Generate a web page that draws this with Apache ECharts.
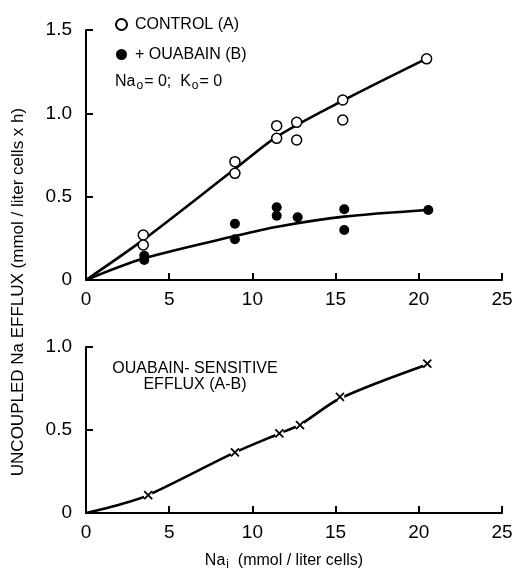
<!DOCTYPE html>
<html><head><meta charset="utf-8">
<script src="https://cdn.jsdelivr.net/npm/echarts@6/dist/echarts.min.js"></script>
<style>html,body{margin:0;padding:0;background:#fff}#c{width:516px;height:569px}</style>
</head><body><div id="c"></div>
<script>
// ---- data ----
const xTicks = [0, 5, 10, 15, 20, 25];
const yTicksTop = [0, 0.5, 1.0, 1.5];
const yTicksBottom = [0, 0.5, 1.0];

// open circles: CONTROL (A)
const controlA = [[3.44,0.27],[3.44,0.21],[8.95,0.71],[8.95,0.64],[11.46,0.926],[11.46,0.85],[12.66,0.946],[12.66,0.84],[15.43,1.08],[15.43,0.96],[20.47,1.327]];
// filled circles: + OUABAIN (B)
const ouabainB = [[3.5,0.145],[3.5,0.12],[8.95,0.337],[8.95,0.245],[11.46,0.437],[11.46,0.385],[12.72,0.377],[15.52,0.425],[15.52,0.30],[20.57,0.42]];
// crosses: ouabain-sensitive efflux (A-B)
const sensitiveAB = [[3.74,0.108],[8.95,0.365],[11.62,0.479],[12.86,0.529],[15.26,0.70],[20.51,0.90]];

// hand-drawn fitted curves
const fitControl = [[0,0],[3.5,0.245],[9,0.67],[11.5,0.862],[15.5,1.08],[20.5,1.33]];
const fitOuabain = [[0,0],[3.5,0.13],[9,0.265],[11.5,0.32],[15.5,0.38],[20.5,0.42]];
const fitSensitive = [[0,0],[2,0.05],[3.74,0.108],[8.95,0.365],[11.62,0.479],[12.86,0.532],[15.26,0.69],[20.51,0.895]];

const FONT = '"Liberation Sans", Arial, Helvetica, sans-serif';

function xAxis(gi) {
  return {
    type: 'value', gridIndex: gi, min: 0, max: 25, interval: 5,
    axisLine: { show: true, onZero: false, lineStyle: { color: '#000', width: 2 } },
    axisTick: { show: true, inside: true, length: 7, lineStyle: { color: '#000', width: 2 } },
    splitLine: { show: false },
    axisLabel: { color: '#000', fontSize: 19, fontFamily: FONT, margin: 10,
      formatter: v => xTicks.includes(v) ? String(v) : '' }
  };
}
function yAxis(gi, ticks) {
  const max = ticks[ticks.length - 1];
  return {
    type: 'value', gridIndex: gi, min: 0, max: max, interval: 0.5,
    axisLine: { show: true, onZero: false, lineStyle: { color: '#000', width: 2 } },
    axisTick: { show: true, inside: true, length: 7, lineStyle: { color: '#000', width: 2 } },
    splitLine: { show: false },
    axisLabel: { color: '#000', fontSize: 19, fontFamily: FONT, margin: 14,
      formatter: v => v === 0 ? '0' : v.toFixed(1) }
  };
}

const chart = echarts.init(document.getElementById('c'), null, { renderer: 'canvas' });
chart.setOption({
  animation: false,
  backgroundColor: '#fff',
  grid: [
    { left: 86, right: 14, top: 30, height: 250 },
    { left: 86, right: 14, top: 347, height: 166 }
  ],
  xAxis: [xAxis(0), xAxis(1)],
  yAxis: [yAxis(0, yTicksTop), yAxis(1, yTicksBottom)],
  legend: {
    orient: 'vertical', left: 110, top: 11, itemGap: 13,
    itemWidth: 11, itemHeight: 11,
    textStyle: { color: '#000', fontSize: 16, fontFamily: FONT, lineHeight: 17, padding: [0, 0, 0, 3] },
    data: ['CONTROL (A)', '+ OUABAIN (B)']
  },
  graphic: [
    { type: 'text', left: 115, top: 74, style: {
        text: 'Na{s|o}= 0;  K{s|o}= 0', fill: '#000', font: '16px ' + FONT,
        rich: { s: { fontSize: 12, fontFamily: FONT, padding: [8, 1, 0, 1] } } } },
    { type: 'text', x: 195, y: 377, style: {
        text: 'OUABAIN- SENSITIVE\nEFFLUX (A-B)', fill: '#000', font: '16px ' + FONT,
        align: 'center', verticalAlign: 'middle', lineHeight: 16 } },
    { type: 'text', x: 18, y: 292, rotation: Math.PI / 2, style: {
        text: 'UNCOUPLED Na EFFLUX (mmol / liter cells x h)', fill: '#000', font: '17px ' + FONT,
        align: 'center', verticalAlign: 'middle' } },
    { type: 'text', x: 284, y: 561, style: {
        text: 'Na{s|i}  (mmol / liter cells)', fill: '#000', font: '16px ' + FONT,
        align: 'center', verticalAlign: 'middle',
        rich: { s: { fontSize: 12, fontFamily: FONT, padding: [8, 0, 0, 1] } } } }
  ],
  series: [
    { type: 'line', name: 'fitA', xAxisIndex: 0, yAxisIndex: 0, data: fitControl, smooth: 0.3,
      showSymbol: false, lineStyle: { color: '#000', width: 2.6 }, z: 2 },
    { type: 'line', name: 'fitB', xAxisIndex: 0, yAxisIndex: 0, data: fitOuabain, smooth: 0.3,
      showSymbol: false, lineStyle: { color: '#000', width: 2.6 }, z: 2 },
    { type: 'scatter', name: 'CONTROL (A)', xAxisIndex: 0, yAxisIndex: 0, data: controlA,
      symbol: 'circle', symbolSize: 10,
      itemStyle: { color: '#fff', borderColor: '#000', borderWidth: 1.5, opacity: 1 }, z: 5 },
    { type: 'scatter', name: '+ OUABAIN (B)', xAxisIndex: 0, yAxisIndex: 0, data: ouabainB,
      symbol: 'circle', symbolSize: 10,
      itemStyle: { color: '#000', borderColor: '#000', borderWidth: 0, opacity: 1 }, z: 5 },
    { type: 'line', name: 'fitAB', xAxisIndex: 1, yAxisIndex: 1, data: fitSensitive, smooth: 0.3,
      showSymbol: false, lineStyle: { color: '#000', width: 2.6 }, z: 2 },
    { type: 'scatter', name: 'gapAB', xAxisIndex: 1, yAxisIndex: 1, data: sensitiveAB,
      symbol: 'circle', symbolSize: 9, itemStyle: { color: '#fff', opacity: 1 }, z: 4 },
    { type: 'scatter', name: 'A-B', xAxisIndex: 1, yAxisIndex: 1, data: sensitiveAB,
      symbol: 'path://M0,0L10,10M10,0L0,10', symbolSize: 8,
      itemStyle: { color: 'rgba(0,0,0,0)', borderColor: '#000', borderWidth: 1.8, opacity: 1 }, z: 5 }
  ]
});
</script></body></html>
